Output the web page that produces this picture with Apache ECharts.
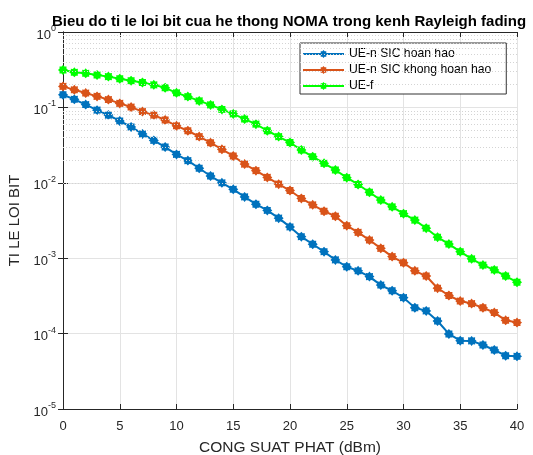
<!DOCTYPE html>
<html>
<head>
<meta charset="utf-8">
<script src="https://cdn.jsdelivr.net/npm/echarts@6/dist/echarts.min.js"></script>
<style>
  html, body { margin: 0; padding: 0; background: #fff; }
  #chart { width: 533px; height: 455px; }
</style>
</head>
<body>
<div id="chart"></div>
<script>
// power (dBm) 0..40
const power = [0,1,2,3,4,5,6,7,8,9,10,11,12,13,14,15,16,17,18,19,20,
               21,22,23,24,25,26,27,28,29,30,31,32,33,34,35,36,37,38,39,40];

const berNearPerfect = [0.147,0.128,0.109,0.092,0.079,0.066,0.055,0.0445,0.0365,0.0298,0.0238,
  0.0197,0.0156,0.0123,0.0100,0.0082,0.0065,0.0052,0.0043,0.0034,0.0026,
  0.00193,0.00153,0.00122,0.00095,0.00077,0.00068,0.00057,0.00044,0.00037,0.0003,
  0.00022,0.0002,0.000147,0.0000989,0.0000805,0.00008,0.0000706,0.0000606,0.0000509,0.00005];

const berNearImperfect = [0.19,0.171,0.155,0.140,0.127,0.113,0.101,0.088,0.079,0.068,0.057,
  0.049,0.041,0.034,0.0278,0.0227,0.0177,0.0145,0.0118,0.0096,0.0079,
  0.0062,0.0051,0.0042,0.0036,0.0027,0.0022,0.00174,0.00135,0.00105,0.00087,
  0.00068,0.00058,0.0004,0.00032,0.00027,0.00025,0.00022,0.00019,0.00015,0.00014];

const berFar = [0.313,0.292,0.283,0.269,0.256,0.240,0.226,0.214,0.199,0.182,0.156,
  0.139,0.122,0.108,0.094,0.082,0.070,0.060,0.049,0.041,0.0342,
  0.0272,0.0222,0.0181,0.0148,0.0117,0.0095,0.0075,0.0059,0.0048,0.0039,
  0.0032,0.0025,0.0019,0.00154,0.00122,0.00098,0.00081,0.0007,0.00058,0.00048];

const seriesNames = ['UE-n SIC hoan hao', 'UE-n SIC khong hoan hao', 'UE-f'];
const seriesColors = ['#0072BD', '#D95319', '#00FF00'];

// minor log grid positions 2..9 x 10^k
const minorGrid = [];
for (let k = -5; k < 0; k++) {
  for (let m = 2; m <= 9; m++) minorGrid.push(m * Math.pow(10, k));
}

// asterisk-like marker
function starPath() {
  let pts = [];
  for (let i = 0; i < 16; i++) {
    const a = i * Math.PI / 8;
    const r = i % 2 === 0 ? 10 : 7.4;
    pts.push((r * Math.cos(a)).toFixed(2) + ' ' + (r * Math.sin(a)).toFixed(2));
  }
  return 'path://M' + pts.join(' L') + ' Z';
}
const marker = starPath();

const axisColor = '#262626';
const font = 'Liberation Sans, Arial, sans-serif';

function makeSeries(name, data, color) {
  return {
    name: name,
    type: 'line',
    data: power.map((p, i) => [p, data[i]]),
    symbol: marker,
    symbolSize: 10,
    showAllSymbol: true,
    lineStyle: { color: color, width: 2 },
    itemStyle: { color: color },
    z: 3,
    animation: false
  };
}

const chart = echarts.init(document.getElementById('chart'), null, { renderer: 'canvas' });
chart.setOption({
  backgroundColor: '#fff',
  animation: false,
  title: {
    text: 'Bieu do ti le loi bit cua he thong NOMA trong kenh Rayleigh fading',
    left: 284, top: 9, textAlign: 'center',
    textStyle: { fontFamily: font, fontSize: 15, fontWeight: 'bold', color: '#000' }
  },
  grid: { left: 63, right: 16, top: 32, bottom: 46, containLabel: false, outerBoundsMode: 'none' },
  legend: {
    data: seriesNames,
    orient: 'vertical',
    left: 300, top: 43,
    itemWidth: 41, itemHeight: 10, itemGap: 4,
    padding: [5, 15, 2, 2],
    borderColor: '#333', borderWidth: 1, backgroundColor: '#fff',
    textStyle: { fontFamily: font, fontSize: 12.2, color: '#000' }
  },
  xAxis: [{
    type: 'value', min: 0, max: 40, interval: 5,
    name: 'CONG SUAT PHAT (dBm)', nameLocation: 'middle', nameGap: 31,
    nameTextStyle: { fontFamily: font, fontSize: 15.5, color: axisColor },
    axisLine: { show: true, lineStyle: { color: axisColor } },
    axisTick: { show: true, inside: true, length: 5, lineStyle: { color: axisColor } },
    axisLabel: { fontFamily: font, fontSize: 13, color: axisColor, margin: 11 },
    splitLine: { show: true, lineStyle: { color: '#e3e3e3', width: 1 } }
  }, {
    type: 'value', min: 0, max: 40, interval: 5, position: 'top',
    axisLine: { show: true, lineStyle: { color: axisColor } },
    axisTick: { show: true, inside: true, length: 5, lineStyle: { color: axisColor } },
    axisLabel: { show: false }, splitLine: { show: false }
  }],
  yAxis: [{
    type: 'log', logBase: 10, min: 1e-5, max: 1, splitNumber: 5,
    name: 'TI LE LOI BIT', nameLocation: 'middle', nameGap: 40,
    nameTextStyle: { fontFamily: font, fontSize: 15, color: axisColor },
    axisLine: { show: true, lineStyle: { color: axisColor } },
    axisTick: { show: true, inside: true, length: 5, lineStyle: { color: axisColor } },
    axisLabel: {
      fontFamily: font, color: axisColor, margin: 7,
      formatter: function (v) {
        const e = Math.round(Math.log10(v));
        return '{b|10}{s|' + e + '}';
      },
      rich: {
        b: { fontFamily: font, fontSize: 13, color: axisColor, padding: [6, 0, 0, 0] },
        s: { fontFamily: font, fontSize: 9, color: axisColor, padding: [0, 0, 7, 0] }
      }
    },
    splitLine: { show: true, lineStyle: { color: '#e3e3e3', width: 1 } }
  }, {
    type: 'log', logBase: 10, min: 1e-5, max: 1, splitNumber: 5, position: 'right',
    axisLine: { show: true, lineStyle: { color: axisColor } },
    axisTick: { show: true, inside: true, length: 5, lineStyle: { color: axisColor } },
    axisLabel: { show: false }, splitLine: { show: false }
  }],
  series: [
    {
      name: 'minor-grid', type: 'line', data: [], silent: true, z: 1,
      markLine: {
        silent: true, symbol: 'none', animation: false,
        label: { show: false },
        lineStyle: { type: [1, 2], color: '#d4d4d4', width: 1 },
        data: minorGrid.map(v => ({ yAxis: v }))
      }
    },
    makeSeries(seriesNames[0], berNearPerfect, seriesColors[0]),
    makeSeries(seriesNames[1], berNearImperfect, seriesColors[1]),
    makeSeries(seriesNames[2], berFar, seriesColors[2])
  ]
});
</script>
</body>
</html>
